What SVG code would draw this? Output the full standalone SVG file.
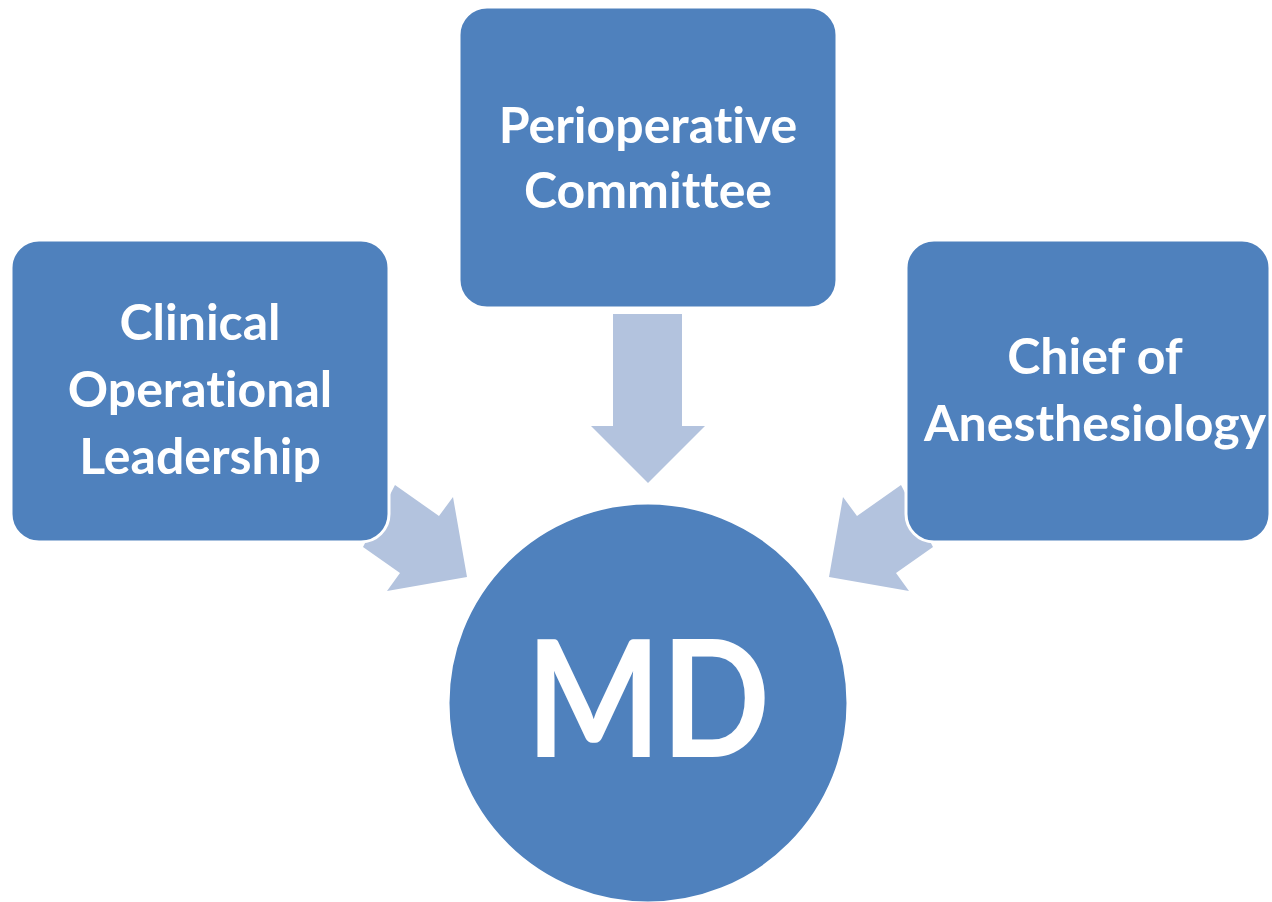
<svg xmlns="http://www.w3.org/2000/svg" width="1272" height="902" viewBox="0 0 1272 902">
<style>
.box{fill:#4F81BD;stroke:#FFFFFF;stroke-width:3}
.arr{fill:#B3C3DE}
.t{fill:#FFFFFF;font-family:Lato,"Open Sans",sans-serif;font-weight:700;font-size:50px;text-anchor:middle;font-variant-ligatures:none;font-feature-settings:"liga" 0}
.big{font-size:162px}
</style>
<rect width="1272" height="902" fill="#FFFFFF"/>
<g id="connectors">
<polygon class="arr" points="613,314 682,314 682,426 705,426 648,483 591,426 613,426"/>
<polygon class="arr" points="395,485 439,516 453,497 467,577 387,591 400,573 363,547"/>
<polygon class="arr" points="901,485 857,516 843,497 829,577 909,591 896,573 933,547"/>
</g>
<g id="node-perioperative">
<rect class="box" x="459" y="7" width="378" height="301" rx="28"/>
<text class="t" x="648" y="143">Perioperative</text>
<text class="t" x="648" y="208">Committee</text>
</g>
<g id="node-clinical">
<rect class="box" x="11" y="240" width="378" height="302" rx="28"/>
<text class="t" x="200" y="340">Clinical</text>
<text class="t" x="200" y="407">Operational</text>
<text class="t" x="200" y="474">Leadership</text>
</g>
<g id="node-chief">
<rect class="box" x="906" y="240" width="364" height="302" rx="28"/>
<text class="t" x="1095" y="374">Chief of</text>
<text class="t" x="1095" y="441">Anesthesiology</text>
</g>
<g id="node-md">
<circle class="box" cx="648" cy="703" r="200"/>
<text class="t big" x="648" y="757" textLength="244" lengthAdjust="spacingAndGlyphs">MD</text>
</g>
</svg>
